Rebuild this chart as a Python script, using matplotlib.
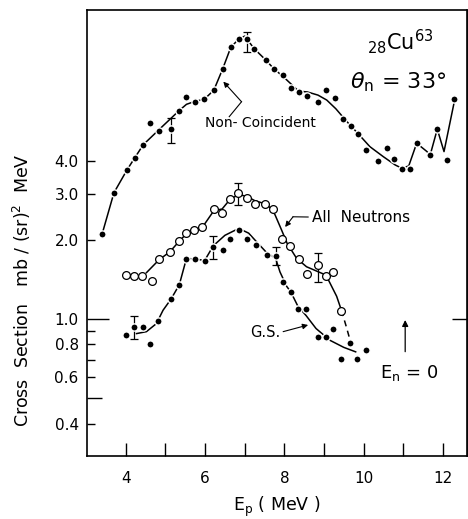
import matplotlib
matplotlib.use("Agg")
import matplotlib.pyplot as plt

# ---------------- data ----------------
nc_x = [3.40, 3.70, 4.03, 4.23, 4.44, 4.62, 4.83, 5.13, 5.34, 5.53, 5.74, 5.98, 6.22, 6.44,
        6.65, 6.85, 7.05, 7.24, 7.53, 7.74, 7.97, 8.18, 8.36, 8.58, 8.86, 9.06, 9.27, 9.49,
        9.67, 9.87, 10.05, 10.36, 10.58, 10.78, 10.97, 11.18, 11.34, 11.68, 11.86, 12.10, 12.28]
nc_y = [2.10, 3.02, 3.69, 4.11, 4.60, 5.55, 5.17, 5.29, 6.19, 7.00, 6.69, 6.85, 7.41, 8.90,
        10.82, 11.57, 11.57, 10.66, 9.66, 8.93, 8.45, 7.56, 7.28, 7.05, 6.69, 7.41, 6.91, 5.76,
        5.43, 5.05, 4.38, 3.99, 4.46, 4.06, 3.71, 3.73, 4.68, 4.20, 5.28, 4.01, 6.88]
nc_err_x = [5.13, 7.05]
nc_err_y = [5.29, 11.57]
nc_err_lo = [4.68, 10.38]
nc_err_hi = [5.83, 12.38]
nc_fit_x = [3.40, 3.70, 4.03, 4.23, 4.44, 4.89, 5.34, 5.53, 5.74, 5.98, 6.22, 6.44, 6.65,
            6.85, 7.00, 7.24, 7.53, 7.74, 7.97, 8.20, 8.36, 8.58, 8.85, 9.07, 9.30, 9.57,
            9.87, 10.16, 10.50, 10.80, 10.97, 11.14, 11.34, 11.60, 11.68, 11.86, 12.03, 12.28]
nc_fit_y = [2.10, 3.02, 3.69, 4.11, 4.60, 5.34, 6.19, 6.55, 6.72, 6.85, 7.41, 8.90, 10.80,
            11.60, 11.90, 10.66, 9.66, 8.93, 8.35, 7.75, 7.35, 7.30, 7.10, 6.80, 6.30, 5.65,
            5.05, 4.52, 4.14, 3.85, 3.74, 3.82, 4.66, 4.33, 4.20, 5.27, 4.33, 6.60]

an_x = [4.01, 4.21, 4.42, 4.65, 4.84, 5.11, 5.34, 5.53, 5.73, 5.93, 6.22, 6.43, 6.63, 6.84,
        7.05, 7.25, 7.52, 7.72, 7.94, 8.15, 8.36, 8.56, 8.84, 9.05, 9.24, 9.44]
an_y = [1.466, 1.457, 1.461, 1.398, 1.684, 1.805, 1.971, 2.118, 2.180, 2.228, 2.616, 2.529,
        2.852, 3.006, 2.872, 2.737, 2.737, 2.627, 2.006, 1.887, 1.684, 1.487, 1.608, 1.457,
        1.505, 1.077]
an_err_x = [6.84, 8.84]
an_err_y = [3.006, 1.608]
an_err_lo = [2.713, 1.386]
an_err_hi = [3.280, 1.787]
an_fit_x = [4.52, 4.84, 5.11, 5.34, 5.53, 5.73, 5.93, 6.22, 6.43, 6.63, 6.84, 7.05, 7.25,
            7.45, 7.60, 7.76, 7.93, 8.07, 8.31, 8.56, 8.82, 9.00, 9.11, 9.32, 9.44]
an_fit_y = [1.50, 1.68, 1.80, 1.97, 2.11, 2.18, 2.23, 2.58, 2.62, 2.85, 2.97, 2.93, 2.82,
            2.76, 2.69, 2.50, 2.18, 1.94, 1.70, 1.58, 1.52, 1.48, 1.41, 1.22, 1.08]
an_tail_x = [9.44, 9.55, 9.66]
an_tail_y = [1.08, 0.95, 0.83]

gs_x = [4.01, 4.21, 4.43, 4.62, 4.82, 5.14, 5.35, 5.53, 5.74, 5.99, 6.21, 6.44, 6.64, 6.85,
        7.05, 7.28, 7.57, 7.78, 7.96, 8.16, 8.34, 8.54, 8.84, 9.05, 9.24, 9.43, 9.66, 9.84, 10.07]
gs_y = [0.868, 0.935, 0.935, 0.803, 0.984, 1.188, 1.347, 1.696, 1.688, 1.666, 1.870, 1.825,
        2.006, 2.185, 2.006, 1.915, 1.756, 1.733, 1.382, 1.267, 1.089, 1.089, 0.852, 0.851,
        0.914, 0.703, 0.809, 0.707, 0.762]
gs_err_x = [4.21, 6.21, 7.78]
gs_err_y = [0.935, 1.870, 1.733]
gs_err_lo = [0.836, 1.684, 1.611]
gs_err_hi = [1.027, 2.068, 1.875]
gs_fit_x = [4.27, 4.52, 4.77, 4.94, 5.14, 5.35, 5.53, 5.74, 5.99, 6.21, 6.50, 6.85, 7.10,
            7.28, 7.55, 7.78, 7.89, 8.06, 8.16, 8.34, 8.55, 8.80, 9.15, 9.50, 9.80]
gs_fit_y = [0.88, 0.895, 0.96, 1.08, 1.19, 1.35, 1.70, 1.69, 1.67, 1.90, 2.08, 2.21, 2.12,
            1.98, 1.79, 1.70, 1.51, 1.33, 1.27, 1.12, 1.03, 0.92, 0.83, 0.78, 0.75]

y_major = [0.4, 0.6, 0.8, 1.0, 2.0, 3.0, 4.0]
y_major_labels = ["0.4", "0.6", "0.8", "1.0", "2.0", "3.0", "4.0"]
y_minor = [0.5, 0.7, 0.9]
x_major = [4, 6, 8, 10, 12]
x_minor = [5, 7, 9, 11]

# ---------------- figure ----------------
plt.rcParams['font.family'] = ['DejaVu Sans']
fig = plt.figure(figsize=(4.68, 5.19), dpi=100)
ax = fig.add_axes([87 / 468, 1 - 456 / 519, 380 / 468, 446 / 519])
ax.set_yscale('log')
ax.set_xlim(3.02, 12.61)
ax.set_ylim(0.3013, 14.96)

lw = 1.1
# fit curves
ax.plot(nc_fit_x, nc_fit_y, color='k', lw=lw, zorder=2)
ax.plot(an_fit_x, an_fit_y, color='k', lw=lw, zorder=2)
ax.plot(an_tail_x, an_tail_y, color='k', lw=lw, ls=(0, (4, 3)), zorder=2)
ax.plot(gs_fit_x, gs_fit_y, color='k', lw=lw, zorder=2)

# error bars
for ex, ey, lo, hi in [(nc_err_x, nc_err_y, nc_err_lo, nc_err_hi),
                       (an_err_x, an_err_y, an_err_lo, an_err_hi),
                       (gs_err_x, gs_err_y, gs_err_lo, gs_err_hi)]:
    yerr = [[v - l for v, l in zip(ey, lo)], [h - v for v, h in zip(ey, hi)]]
    ax.errorbar(ex, ey, yerr=yerr, fmt='none', ecolor='k', elinewidth=0.9,
                capsize=2.8, capthick=0.9, zorder=3)

# points
ax.plot(nc_x, nc_y, 'o', ms=5.2, mfc='k', mec='white', mew=1.0, zorder=4)
ax.plot(gs_x, gs_y, 'o', ms=5.2, mfc='k', mec='white', mew=1.0, zorder=4)
ax.plot(an_x, an_y, 'o', ms=5.6, mfc='white', mec='k', mew=0.9, zorder=4)

# ---------------- axes styling ----------------
for s in ax.spines.values():
    s.set_linewidth(1.2)
ax.set_yticks(y_major)
ax.set_yticklabels(y_major_labels)
ax.set_yticks(y_minor, minor=True)
ax.yaxis.set_minor_formatter(matplotlib.ticker.NullFormatter())
ax.set_xticks(x_major)
ax.set_xticks(x_minor, minor=True)
ax.tick_params(axis='y', which='both', direction='in', length=5.5, width=1.0,
               labelsize=11, pad=6, right=False)
ax.tick_params(axis='x', which='both', direction='in', length=9.5, width=1.0,
               labelsize=11, pad=11, top=False)
for t, v in zip(ax.yaxis.get_major_ticks(), y_major):
    if v == 1.0:
        t.tick1line.set_markersize(16)
for t, v in zip(ax.yaxis.get_minor_ticks(), y_minor):
    if v == 0.5:
        t.tick1line.set_markersize(10.5)

sec = ax.secondary_yaxis('right')
sec.set_yticks([1.0])
sec.set_yticklabels([''])
sec.yaxis.set_minor_locator(matplotlib.ticker.NullLocator())
sec.tick_params(axis='y', which='both', direction='in', length=11, width=1.0)
sec.spines['right'].set_linewidth(0.6)

ax.set_xlabel(r'E$_\mathregular{p}$ ( MeV )', fontsize=12.5, labelpad=6)
fig.text(22 / 468, 1 - 290 / 519, r'Cross  Section   mb / (sr)$^\mathregular{2}$  MeV',
         rotation=90, ha='center', va='center', fontsize=12.5)

# ---------------- annotations ----------------
ax.text(10.92, 11.3, r'$_\mathregular{28}$Cu$^\mathregular{63}$', fontsize=15,
        ha='center', va='center')
ax.text(10.87, 7.96, r'$\theta_\mathregular{n}$ = 33°', fontsize=16, ha='center', va='center')

ax.text(6.0, 5.54, 'Non- Coincident', fontsize=10, ha='left', va='center')
ax.plot([6.61, 6.92], [5.88, 6.70], color='k', lw=0.8)
ax.annotate('', xy=(6.46, 7.99), xytext=(6.92, 6.70),
            arrowprops=dict(arrowstyle='-|>', lw=0.8, color='k', mutation_scale=8,
                            shrinkA=0, shrinkB=0))

ax.text(8.70, 2.44, 'All  Neutrons', fontsize=11, ha='left', va='center')
ax.plot([8.22, 8.60], [2.447, 2.442], color='k', lw=0.8)
ax.annotate('', xy=(8.02, 2.238), xytext=(8.22, 2.447),
            arrowprops=dict(arrowstyle='-|>', lw=0.8, color='k', mutation_scale=8,
                            shrinkA=0, shrinkB=0))

ax.text(7.13, 0.887, 'G.S.', fontsize=10.5, ha='left', va='center')
ax.annotate('', xy=(8.60, 0.949), xytext=(7.97, 0.895),
            arrowprops=dict(arrowstyle='-|>', lw=0.8, color='k', mutation_scale=8,
                            shrinkA=0, shrinkB=0))

ax.annotate('', xy=(11.05, 0.991), xytext=(11.05, 0.751),
            arrowprops=dict(arrowstyle='-|>', lw=0.9, color='k', mutation_scale=9,
                            shrinkA=0, shrinkB=0))
ax.text(11.15, 0.623, r'E$_\mathregular{n}$ = 0', fontsize=13, ha='center', va='center')

fig.savefig('out.png', dpi=100)
